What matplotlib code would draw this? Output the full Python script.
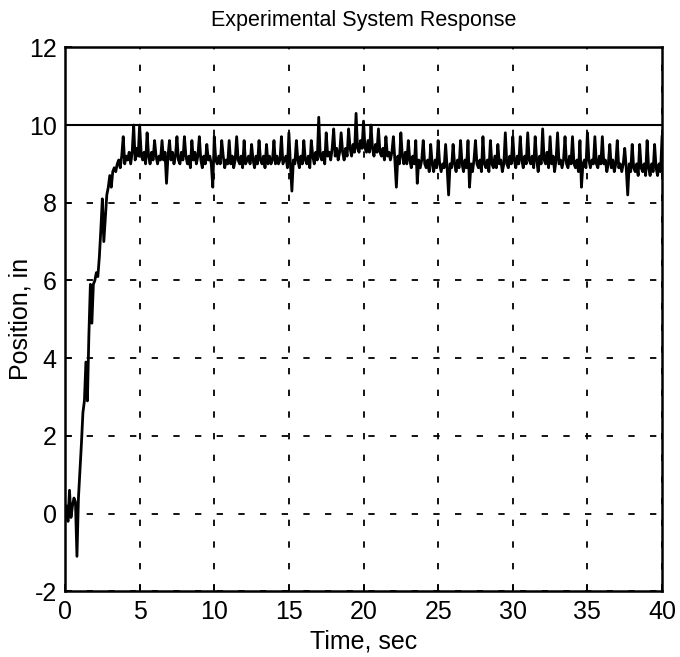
import numpy as np
import matplotlib
matplotlib.use("Agg")
import matplotlib.pyplot as plt

# Sampling interval of the recorded position signal (seconds)
dt = 0.1

# Measured position (inches), one row per second of recording
position = [
    -0.1, 0.2, -0.2, 0.6, -0.1, 0.2, 0.4, 0.3, -1.1, 0.4,
    1.1, 1.8, 2.6, 2.9, 3.9, 2.9, 4.6, 5.9, 4.9, 5.9,
    6.0, 6.2, 6.1, 6.6, 7.3, 8.1, 7.0, 7.6, 8.2, 8.4,
    8.7, 8.4, 8.8, 8.9, 8.8, 9.0, 9.1, 8.9, 9.2, 9.7,
    9.0, 9.2, 9.1, 9.3, 9.0, 9.3, 10.0, 9.1, 9.4, 9.2,
    10.0, 9.3, 9.1, 9.3, 9.0, 9.8, 9.2, 9.0, 9.3, 9.1,
    9.6, 9.2, 9.0, 9.2, 9.1, 9.6, 9.1, 9.3, 8.5, 9.2,
    9.6, 9.1, 9.3, 9.0, 9.2, 9.7, 9.1, 9.0, 9.3, 9.1,
    9.7, 9.2, 9.0, 9.2, 8.9, 9.6, 9.1, 9.3, 9.0, 9.2,
    9.7, 9.1, 8.9, 9.2, 9.0, 9.5, 9.1, 9.2, 9.0, 8.4,
    9.7, 9.1, 9.0, 9.2, 9.0, 9.6, 9.2, 8.9, 9.1, 9.0,
    9.6, 9.0, 9.2, 8.9, 9.1, 9.7, 9.1, 9.0, 9.2, 8.9,
    9.6, 9.0, 9.1, 9.2, 9.0, 9.5, 9.1, 8.9, 9.2, 9.0,
    9.6, 9.1, 9.0, 9.2, 8.9, 9.5, 9.0, 9.2, 9.0, 9.1,
    9.6, 9.0, 9.2, 9.0, 9.1, 9.7, 9.0, 9.1, 9.2, 8.9,
    9.8, 9.0, 8.3, 9.1, 9.0, 9.6, 9.1, 8.9, 9.2, 9.0,
    9.6, 9.1, 9.0, 9.2, 8.9, 9.6, 9.2, 9.0, 9.3, 9.1,
    10.2, 9.2, 9.1, 9.3, 9.0, 9.8, 9.2, 9.3, 9.1, 9.4,
    9.9, 9.2, 9.4, 9.1, 9.3, 9.8, 9.3, 9.1, 9.4, 9.2,
    9.9, 9.4, 9.2, 9.5, 9.3, 10.3, 9.4, 9.3, 9.6, 9.4,
    10.1, 9.4, 9.3, 9.6, 9.3, 10.0, 9.4, 9.2, 9.5, 9.3,
    9.9, 9.3, 9.2, 9.4, 9.1, 9.7, 9.2, 9.3, 9.1, 9.3,
    9.7, 9.1, 8.4, 9.2, 9.0, 9.8, 9.2, 9.0, 9.3, 9.0,
    9.6, 9.1, 8.9, 9.2, 9.0, 9.6, 8.5, 9.1, 8.9, 9.1,
    9.6, 9.0, 8.9, 9.1, 8.8, 9.5, 9.0, 8.8, 9.1, 8.9,
    9.6, 9.0, 8.8, 9.0, 8.9, 9.5, 8.9, 8.2, 9.0, 8.9,
    9.5, 9.0, 8.8, 9.1, 8.9, 9.6, 9.0, 8.8, 9.1, 8.9,
    9.6, 8.4, 9.0, 8.8, 9.1, 9.6, 9.0, 8.9, 9.1, 8.8,
    9.7, 9.0, 8.9, 9.1, 8.8, 9.6, 9.0, 8.9, 9.2, 8.9,
    9.5, 9.0, 9.1, 8.8, 9.0, 9.8, 9.0, 8.9, 9.2, 9.0,
    9.7, 9.1, 8.9, 9.2, 9.0, 9.7, 9.1, 8.9, 9.2, 9.0,
    9.8, 9.1, 9.0, 9.2, 8.9, 9.7, 9.1, 8.8, 9.2, 9.0,
    9.9, 9.1, 9.0, 9.3, 8.9, 9.7, 9.0, 9.2, 8.8, 9.1,
    9.8, 9.0, 9.1, 8.9, 9.1, 9.7, 9.0, 8.9, 9.2, 9.0,
    9.7, 9.0, 8.9, 9.1, 8.8, 9.6, 8.4, 9.0, 9.1, 8.9,
    9.8, 9.1, 8.9, 9.1, 9.0, 9.7, 9.0, 8.9, 9.2, 9.0,
    9.7, 9.0, 9.1, 8.8, 9.0, 9.5, 8.9, 9.1, 8.8, 9.0,
    9.6, 8.9, 9.0, 8.8, 9.0, 9.4, 8.9, 8.2, 9.0, 8.8,
    9.5, 8.9, 8.8, 9.0, 8.7, 9.5, 8.9, 8.8, 9.0, 8.7,
    9.6, 8.9, 8.7, 9.0, 8.8, 9.5, 8.9, 8.7, 9.0, 8.8,
    9.7,
]
time = np.arange(len(position)) * dt

# Commanded set point (inches)
setpoint = 10

x_ticks = [0, 5, 10, 15, 20, 25, 30, 35, 40]
y_ticks = [-2, 0, 2, 4, 6, 8, 10, 12]

plt.rcParams["font.family"] = ["Liberation Sans", "DejaVu Sans"]
plt.rcParams["axes.unicode_minus"] = False

fig = plt.figure(figsize=(6.8, 6.57), dpi=100)
ax = fig.add_axes([0.0956, 0.100, 0.878, 0.828])

ax.plot(time, position, color="black", linewidth=2.0)
ax.axhline(setpoint, color="black", linewidth=1.5)

ax.set_xlim(0, 40)
ax.set_ylim(-2, 12)
ax.set_xticks(x_ticks)
ax.set_yticks(y_ticks)

ax.grid(True, color="black", linestyle=(0, (3.5, 8.5)), linewidth=1.3)
ax.tick_params(direction="in", length=5, width=1.2, labelsize=18,
               top=False, right=False, pad=6)
for s in ax.spines.values():
    s.set_linewidth(1.8)

ax.set_title("Experimental System Response", fontsize=15.5, pad=15)
ax.set_xlabel("Time, sec", fontsize=18, labelpad=4)
ax.set_ylabel("Position, in", fontsize=18)
ax.yaxis.set_label_coords(-0.054, 0.5)

fig.savefig("out.png", dpi=100)
